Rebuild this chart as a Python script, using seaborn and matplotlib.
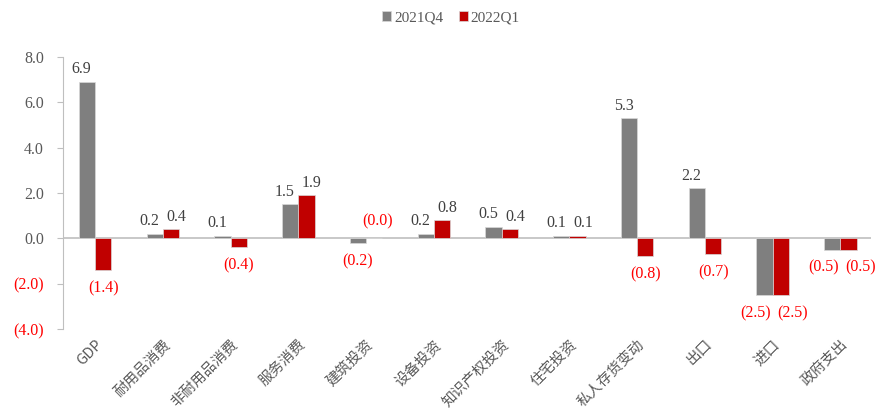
import pandas as pd
import numpy as np
import matplotlib.pyplot as plt
import seaborn as sns

# ---- data ----
categories = ['GDP', '耐用品消费', '非耐用品消费', '服务消费', '建筑投资', '设备投资',
              '知识产权投资', '住宅投资', '私人存货变动', '出口', '进口', '政府支出']
q4_2021 = [6.9, 0.2, 0.1, 1.5, -0.2, 0.2, 0.5, 0.1, 5.3, 2.2, -2.5, -0.5]
q1_2022 = [-1.4, 0.4, -0.4, 1.9, 0.0, 0.8, 0.4, 0.1, -0.8, -0.7, -2.5, -0.5]
series = ['2021Q4', '2022Q1']
yticks = [-4, -2, 0, 2, 4, 6, 8]

df = pd.DataFrame({
    'cat': categories * 2,
    'val': q4_2021 + q1_2022,
    'period': [series[0]] * len(categories) + [series[1]] * len(categories),
})

num_font = 'Liberation Serif'
cjk_font = ['Noto Sans CJK SC', 'DejaVu Sans']
gray, red = '#7f7f7f', '#c00000'
label_gray, label_red = '#404040', '#ff0000'

sns.set_style('white')
plt.rcParams['font.family'] = [num_font, 'Noto Sans CJK SC']

fig = plt.figure(figsize=(8.78, 4.19), dpi=100)
ax = fig.add_axes([0.072, 0.215, 0.92, 0.649])

sns.barplot(data=df, x='cat', y='val', hue='period', palette=[gray, red],
            width=0.48, ax=ax, edgecolor='#d9d9d9', linewidth=0.5, saturation=1)

# value labels, nudged outward so pairs don't collide
fs = 11.5
both_neg = [a < 0 and b < 0 for a, b in zip(q4_2021, q1_2022)]
for k, cont in enumerate(ax.containers):
    for i, bar in enumerate(cont):
        v = bar.get_height()
        xc = bar.get_x() + bar.get_width() / 2
        if v > 0:
            xc += -0.08 if k == 0 else 0.08
            ax.text(xc, v + 0.2, f'{v:.1f}', ha='center', va='bottom',
                    color=label_gray, fontsize=fs, family=num_font)
        elif v == 0:
            ax.text(xc + 0.05, 0.75, '(0.0)', ha='center', va='center',
                    color=label_red, fontsize=fs, family=num_font)
        else:
            if both_neg[i]:
                xc += -0.13 if k == 0 else 0.17
            ax.text(xc, v - 0.45, f'({abs(v):.1f})', ha='center', va='top',
                    color=label_red, fontsize=fs, family=num_font)

ax.axhline(0, color='#bfbfbf', linewidth=1.2, zorder=0.5)

ax.set_ylim(-4, 8)
ax.set_xlim(-0.47, 11.45)
ax.set_yticks(yticks)
ylabels = [f'({abs(t):.1f})' if t < 0 else f'{t:.1f}' for t in yticks]
ax.set_yticklabels(ylabels, family=num_font, fontsize=fs)
for lab, t in zip(ax.get_yticklabels(), yticks):
    lab.set_color(label_red if t < 0 else '#595959')

ax.set_xticks(range(len(categories)))
ax.set_xticklabels(categories, rotation=45, ha='right', rotation_mode='anchor',
                   family=cjk_font, fontsize=10.5, color='#595959')
ax.tick_params(axis='x', length=0, pad=6)
ax.tick_params(axis='y', length=4, color='#bfbfbf', direction='out', pad=10, left=True)
ax.set_xlabel('')
ax.set_ylabel('')

for s in ['top', 'right', 'bottom']:
    ax.spines[s].set_visible(False)
ax.spines['left'].set_color('#bfbfbf')

ax.legend(title=None, loc='center', bbox_to_anchor=(0.48, 1.145), ncol=2,
          frameon=False, prop={'family': num_font, 'size': 11}, handlelength=0.6,
          handleheight=0.6, columnspacing=1.0, handletextpad=0.2, labelcolor='#595959')

fig.savefig('out.png', dpi=100)
